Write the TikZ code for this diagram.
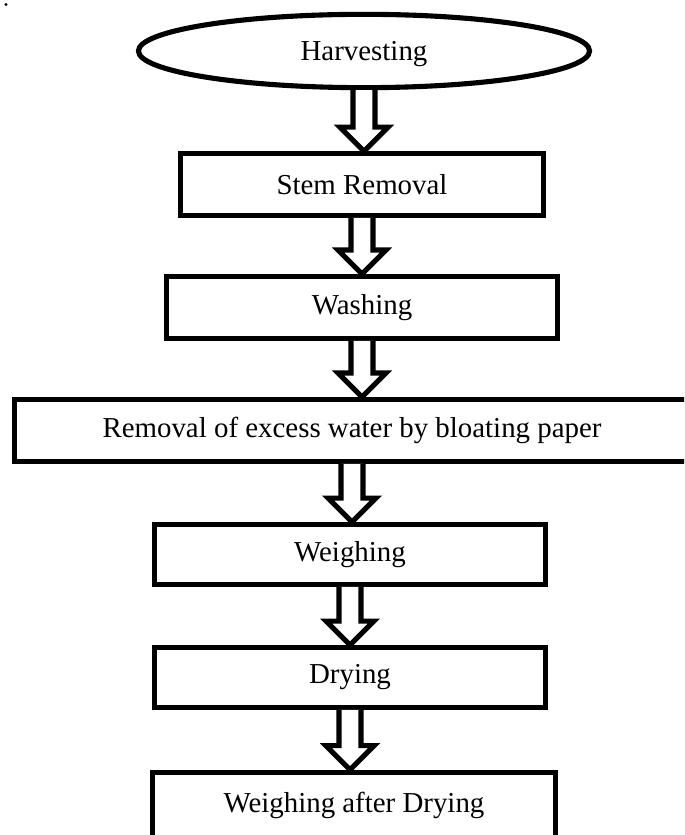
\documentclass[tikz,border=0pt]{standalone}
\usepackage{fontspec}
\setmainfont{Liberation Serif}
\usetikzlibrary{shapes.geometric,calc}

\tikzstyle{stage}=[rectangle,draw,line width=2.3pt,fill=white,inner sep=0pt,font=\fontsize{13}{15}\selectfont]
\tikzstyle{start}=[ellipse,draw,line width=2.3pt,fill=white,inner sep=0pt,minimum width=203pt,minimum height=33pt,font=\fontsize{13}{15}\selectfont]
\tikzstyle{blockarrow}=[line width=2.3pt,fill=white,line join=miter]

% hollow block arrow from the bottom of #1 to the top of #2
\newcommand{\flowarrow}[2]{
  \coordinate (tip) at (#1.south |- #2.north);
  \draw [blockarrow] ($(#1.south)+(-11,0)$) -- ($(tip)+(-11,-24)$) -- ($(tip)+(-24,-24)$)
    -- (tip) -- ($(tip)+(24,-24)$) -- ($(tip)+(11,-24)$) -- ($(#1.south)+(11,0)$);
}

\begin{document}
\begin{tikzpicture}[x=0.45pt,y=-0.45pt]
  \useasboundingbox (0,0) rectangle (684,835);
  \clip (0,0) rectangle (684,835);

  \fill (6,4.5) circle (1.7);

  \node [start,text depth=0pt] (harvest) at (364,51) {Harvesting};
  \node [stage,minimum width=163pt,minimum height=27.7pt] (stem) at (362,184.5) {Stem Removal};
  \node [stage,minimum width=175.8pt,minimum height=27.8pt] (wash) at (362,307.5) {Washing};
  \node [stage,minimum width=303.6pt,minimum height=27.8pt] (blot) at (352,430.5) {Removal of excess water by bloating paper};
  \node [stage,minimum width=175.8pt,minimum height=26.9pt] (weigh) at (350,554.5) {Weighing};
  \node [stage,minimum width=175.8pt,minimum height=26.9pt] (dry) at (350,677.5) {Drying};
  \node [stage,minimum width=181.2pt,minimum height=29.5pt] (final) at (354,805) {Weighing after Drying};

  \flowarrow{harvest}{stem}
  \flowarrow{stem}{wash}
  \flowarrow{wash}{blot}
  \flowarrow{blot}{weigh}
  \flowarrow{weigh}{dry}
  \flowarrow{dry}{final}

\end{tikzpicture}
\end{document}
